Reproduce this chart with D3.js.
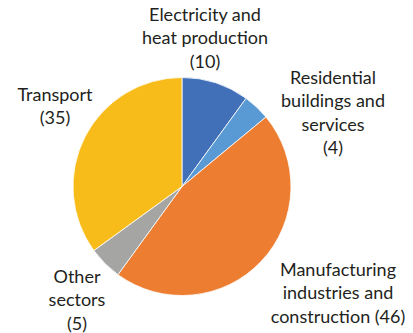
<!DOCTYPE html>
<html>
<head>
<meta charset="utf-8">
<script src="https://cdn.jsdelivr.net/npm/d3@7"></script>
<style>
  html, body { margin: 0; padding: 0; background: #fff; }
  svg { display: block; }
  text { font-family: Lato, "Open Sans", sans-serif; fill: #231f20; }
</style>
</head>
<body>
<svg id="chart" width="413" height="333"></svg>
<script>
// Emissions by sector (share, %)
const sectors = ["Electricity and heat production", "Residential buildings and services",
                 "Manufacturing industries and construction", "Other sectors", "Transport"];
const values = [10, 4, 46, 5, 35];
const colors = ["#4170b9", "#5a9ad4", "#ec7d31", "#a5a5a4", "#f8bc1a"];
// Label lines for each sector, with the value appended in parentheses
const labelLines = [
  ["Electricity and", "heat production", "(10)"],
  ["Residential", "buildings and", "services", "(4)"],
  ["Manufacturing", "industries and", "construction (46)"],
  ["Other", "sectors", "(5)"],
  ["Transport", "(35)"]
];
const labelPos = [[205, 21], [333, 84], [338, 276], [77, 283], [55, 101]];

const svg = d3.select("#chart");
const cx = 182, cy = 186.5, r = 109;

const pie = d3.pie().sort(null).value(d => d);
const arc = d3.arc().innerRadius(0).outerRadius(r);

const g = svg.append("g").attr("transform", `translate(${cx},${cy})`);
g.selectAll("path")
  .data(pie(values))
  .join("path")
  .attr("d", arc)
  .attr("fill", (d, i) => colors[i])
  .attr("stroke", "#fff")
  .attr("stroke-width", 0.8);

const lineH = 23.3;
labelLines.forEach((lines, i) => {
  const t = svg.append("text")
    .attr("text-anchor", "middle")
    .attr("font-size", 18);
  lines.forEach((s, j) => {
    t.append("tspan")
      .attr("x", labelPos[i][0])
      .attr("y", labelPos[i][1] + j * lineH)
      .text(s);
  });
});
</script>
</body>
</html>
